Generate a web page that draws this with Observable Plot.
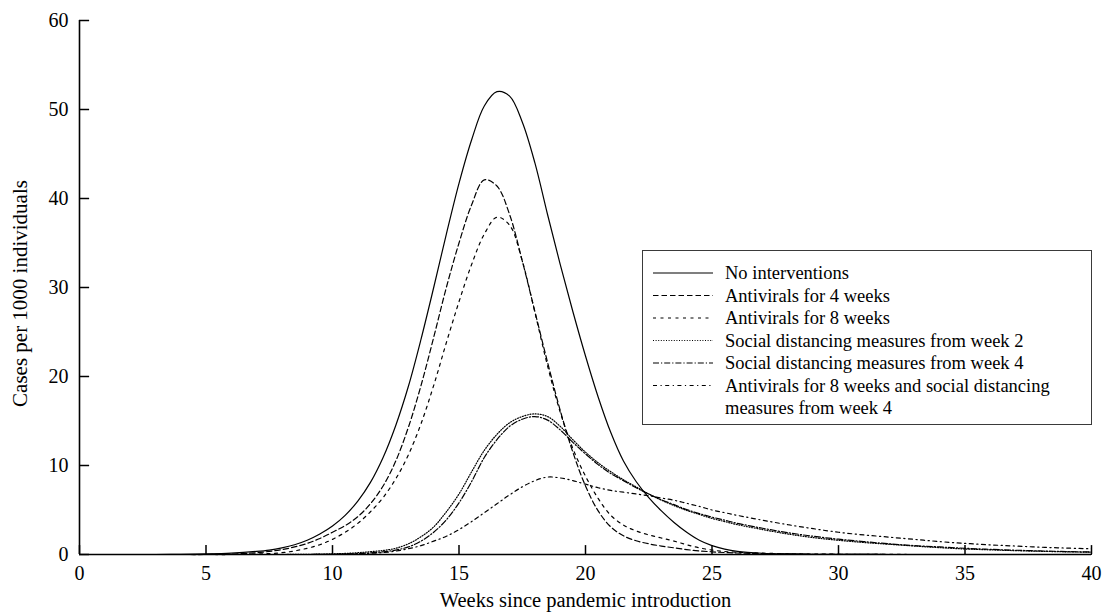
<!DOCTYPE html>
<html><head><meta charset="utf-8">
<script src="https://cdn.jsdelivr.net/npm/d3@7"></script>
<script src="https://cdn.jsdelivr.net/npm/@observablehq/plot@0.6"></script>
<style>
body{margin:0;background:#fff;}
#wrap{position:relative;width:1103px;height:613px;font-family:"Liberation Serif","Times New Roman",serif;}
#legend{position:absolute;left:642px;top:250px;width:448px;height:173px;border:1.3px solid #3a3a3a;background:#fff;}
</style></head><body><div id="wrap"></div>
<script>
const weeks = [0,1,2,3,4,5,6,7,
  7.5,8,8.5,9,9.5,10,10.5,11,11.5,12,12.5,13,13.5,14,14.5,15,15.5,16,16.5,17,17.5,18,18.5,19,19.5,20,20.5,21,21.5,22,22.5,23,23.5,24,24.5,25,25.5,26,
  27,28,29,30,31,32,33,34,35,36,37,38,39,40];
const noInterventions = [0,0,0,0,0.02,0.06,0.15,0.35,
  0.5,0.75,1.1,1.6,2.3,3.2,4.4,6.0,8.1,10.9,14.5,18.9,24.2,30.0,36.0,41.7,46.6,50.4,52.0,51.5,48.6,44.0,38.2,32.6,27.3,22.3,17.7,13.7,10.5,8.2,6.4,4.9,3.6,2.5,1.6,1.0,0.6,0.35,
  0.14,0.06,0.03,0.02,0.01,0,0,0,0,0,0,0,0,0];
const antivirals4 = [0,0,0,0,0,0,0.05,0.2,
  0.35,0.55,0.85,1.25,1.8,2.5,3.25,4.25,5.7,7.7,10.5,14.3,19.0,24.4,30.0,35.0,39.3,42.1,41.4,38.2,33.0,27.3,21.6,16.2,11.5,7.7,4.9,3.1,2.1,1.55,1.2,0.95,0.75,0.55,0.4,0.3,0.22,0.17,
  0.1,0.06,0.03,0.02,0.01,0,0,0,0,0,0,0,0,0];
const antivirals8 = [0,0,0,0,0,0,0,0.05,
  0.1,0.2,0.4,0.7,1.1,1.7,2.5,3.5,4.8,6.4,8.5,11.2,14.7,19.0,23.8,28.4,32.6,36.0,37.9,37.0,33.0,27.2,21.2,16.0,11.9,8.8,6.3,4.4,3.3,2.65,2.2,1.85,1.5,1.1,0.75,0.5,0.34,0.25,
  0.15,0.08,0.05,0.03,0.02,0.01,0,0,0,0,0,0,0,0];
const distancing2 = [0,0,0,0,0,0,0,0,
  0,0,0.01,0.02,0.04,0.07,0.12,0.2,0.32,0.45,0.7,1.2,2.0,3.1,4.8,6.8,9.3,11.7,13.5,14.8,15.5,15.8,15.5,14.4,12.9,11.5,10.3,9.3,8.4,7.6,6.8,6.1,5.5,4.95,4.5,4.05,3.7,3.35,
  2.8,2.3,1.9,1.6,1.35,1.15,0.95,0.77,0.62,0.52,0.43,0.36,0.3,0.26];
const distancing4 = [0,0,0,0,0,0,0,0,
  0,0,0,0,0.01,0.03,0.06,0.1,0.18,0.3,0.5,0.85,1.5,2.5,3.9,5.8,8.2,10.9,12.9,14.4,15.2,15.5,15.1,14.0,12.6,11.3,10.1,9.1,8.3,7.5,6.8,6.15,5.6,5.05,4.6,4.2,3.85,3.5,
  2.95,2.45,2.05,1.72,1.45,1.2,1.0,0.85,0.7,0.58,0.48,0.4,0.33,0.28];
const combined = [0,0,0,0,0,0,0,0,
  0,0,0,0,0.01,0.02,0.04,0.08,0.13,0.22,0.38,0.65,1.0,1.5,2.05,2.8,3.7,4.7,5.7,6.7,7.6,8.3,8.7,8.6,8.3,7.9,7.5,7.2,7.0,6.8,6.6,6.35,6.1,5.75,5.4,5.0,4.7,4.4,
  3.85,3.35,2.9,2.5,2.2,1.95,1.7,1.45,1.25,1.08,0.95,0.82,0.72,0.64];
const seriesNames = ["No interventions","Antivirals for 4 weeks","Antivirals for 8 weeks","Social distancing measures from week 2","Social distancing measures from week 4","Antivirals for 8 weeks and social distancing measures from week 4"];
const legendLines = [["No interventions"],["Antivirals for 4 weeks"],["Antivirals for 8 weeks"],["Social distancing measures from week 2"],["Social distancing measures from week 4"],["Antivirals for 8 weeks and social distancing","measures from week 4"]];
const xTicks = [0,5,10,15,20,25,30,35,40];
const yTicks = [0,10,20,30,40,50,60];

const seriesValues = [noInterventions, antivirals4, antivirals8, distancing2, distancing4, combined];
const dashStyles = ["none","5.5,3","3,4.5","1,1.6","6,2,1.2,2","4,3.5,1.2,3.5"];

const rows = [];
seriesValues.forEach((vals, i) => vals.forEach((v, j) => rows.push({series: seriesNames[i], week: weeks[j], cases: v})));

const font = '"Liberation Serif","Times New Roman",serif';
const chart = Plot.plot({
  width: 1103, height: 613,
  marginLeft: 79, marginRight: 12, marginTop: 20, marginBottom: 59,
  style: {fontFamily: font, fontSize: "20px", color: "#000", background: "#fff"},
  x: {domain: [0, 40]},
  y: {domain: [0, 60]},
  marks: [
    ...seriesNames.map((name, i) => Plot.line(rows.filter(r => r.series === name), {
      x: "week", y: "cases", stroke: "#000", strokeWidth: 1.2,
      strokeDasharray: dashStyles[i], curve: "catmull-rom"
    })),
    Plot.ruleX(xTicks, {x: d => d, y1: 0, y2: 1.0, stroke: "#000", strokeWidth: 1.5}),
    Plot.ruleY(yTicks, {y: d => d, x1: 0, x2: 0.4, stroke: "#000", strokeWidth: 1.5}),
    Plot.ruleY([0], {stroke: "#000", strokeWidth: 1.6}),
    Plot.ruleX([0], {stroke: "#000", strokeWidth: 1.6}),
    Plot.axisX({ticks: xTicks, tickSize: 0, tickPadding: 11, label: null, fontSize: 20}),
    Plot.axisY({ticks: yTicks, tickSize: 0, tickPadding: 11, label: null, fontSize: 20}),
    Plot.text(["Weeks since pandemic introduction"], {frameAnchor: "bottom", lineAnchor: "middle", textAnchor: "middle", dy: 46, fontSize: 20.5}),
    Plot.text(["Cases per 1000 individuals"], {frameAnchor: "left", textAnchor: "middle", lineAnchor: "middle", dx: -59, dy: 6, rotate: -90, fontSize: 21})
  ]
});
const wrap = document.getElementById("wrap");
wrap.appendChild(chart);

const leg = document.createElement("div");
leg.id = "legend";
wrap.appendChild(leg);
const svg = d3.select(leg).append("svg").attr("width", 448).attr("height", 173)
  .style("position","absolute").style("left","0").style("top","0");
let row = 0;
legendLines.forEach((lines, i) => {
  const y = 22 + row * 22.5;
  svg.append("line").attr("x1", 10).attr("x2", 70).attr("y1", y).attr("y2", y)
    .attr("stroke", "#000").attr("stroke-width", 1.2)
    .attr("stroke-dasharray", dashStyles[i] === "none" ? null : dashStyles[i]);
  lines.forEach((t, k) => {
    svg.append("text").attr("x", 82).attr("y", y + k * 22.5).attr("dy", "0.35em")
      .attr("font-family", font).attr("font-size", 18.5).attr("fill", "#000").text(t);
  });
  row += lines.length;
});
</script></body></html>
